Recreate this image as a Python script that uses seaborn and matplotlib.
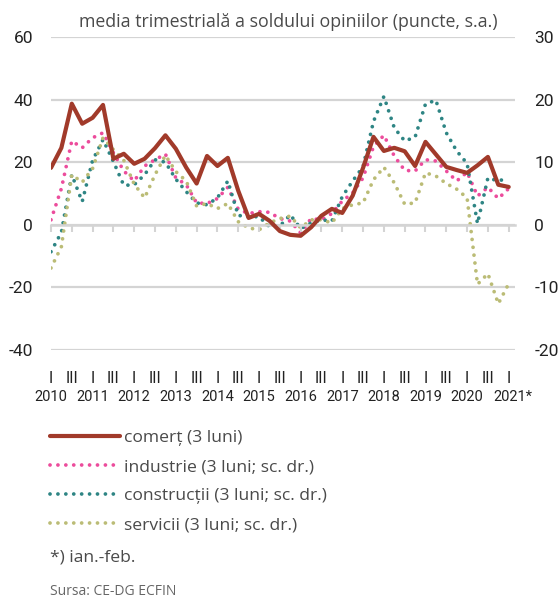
import seaborn as sns
import matplotlib.pyplot as plt
import matplotlib.transforms as mtransforms
import pandas as pd
import numpy as np

# Quarterly values, 2010 Q1 - 2021 Q1 (last point: Jan-Feb)
years = list(range(2010, 2022))
quarters = [y + q * 0.25 for y in years[:-1] for q in range(4)] + [2021.0]

comert = [18.2, 24.6, 38.7, 32.3, 34.2, 38.3, 21.1, 22.7, 19.5, 21.1, 24.5, 28.6,
          24.3, 18.3, 13.2, 22.0, 18.8, 21.4, 10.9, 2.2, 3.5, 1.3, -2.0, -3.2,
          -3.5, -0.8, 2.9, 5.1, 3.8, 9.3, 18.2, 28.1, 23.6, 24.6, 23.5, 18.8,
          26.5, 22.5, 18.5, 17.5, 16.6, 19.0, 21.7, 12.8, 12.1]
industrie = [0.8, 5.8, 13.4, 12.3, 13.9, 14.7, 11.5, 8.6, 7.0, 9.4, 10.4, 11.3,
             7.5, 6.4, 3.5, 3.4, 4.2, 6.0, 2.5, 1.8, 2.1, 2.0, 1.0, 0.6,
             -1.3, 1.0, 0.8, 1.8, 3.8, 5.1, 7.5, 12.5, 14.3, 11.0, 8.7, 8.6,
             10.4, 10.2, 8.6, 7.0, 8.4, 4.6, 6.0, 4.2, 5.8]
constructii = [-4.3, -1.2, 8.0, 3.7, 10.3, 13.6, 10.1, 6.3, 6.4, 8.0, 10.4, 10.0,
               7.3, 5.3, 3.5, 3.2, 4.3, 7.0, 1.5, 1.3, 1.3, -0.3, -0.2, 1.6,
               -0.6, 0.3, 0.8, 0.6, 4.5, 7.0, 9.3, 16.5, 20.5, 15.5, 13.4, 14.0,
               19.3, 19.9, 14.7, 11.8, 9.8, 0.2, 7.5, 7.0, 7.5]
servicii = [-6.9, -3.5, 8.0, 6.8, 9.0, 13.9, 12.0, 10.3, 6.5, 4.3, 8.0, 11.1,
            8.5, 7.0, 3.0, 3.4, 2.6, 3.4, 0.5, -0.5, -0.8, 0.3, 1.0, 1.4,
            -0.5, 0.8, 0.8, 0.3, 2.6, 3.2, 3.5, 7.2, 9.2, 6.7, 3.3, 3.5,
            8.3, 7.8, 6.6, 5.7, 4.3, -9.5, -7.8, -12.6, -9.4]

year_labels = [str(y) for y in years[:-1]] + ['2021*']
left_ticks = [-40, -20, 0, 20, 40, 60]
right_ticks = [-20, -10, 0, 10, 20, 30]

df = pd.DataFrame({'t': quarters, 'comert': comert, 'industrie': industrie,
                   'constructii': constructii, 'servicii': servicii})

sns.set_style("white")
plt.rcParams['font.family'] = ['Open Sans', 'DejaVu Sans']
plt.rcParams['axes.unicode_minus'] = False

c_com = '#A13A2A'
c_ind = '#EC4C9C'
c_con = '#2E8584'
c_ser = '#BBBC76'
txt = '#4a4a4a'
num_family = ['Roboto', 'DejaVu Sans']

fig = plt.figure(figsize=(5.59, 6.01), dpi=100)
ax = fig.add_axes([0.0912, 0.4176, 0.830, 0.5208])
ax2 = ax.twinx()

dots = dict(linewidth=2.7, dashes=(0.01, 2.1), dash_capstyle='round')
sns.lineplot(data=df, x='t', y='industrie', ax=ax2, color=c_ind, label='industrie (3 luni; sc. dr.)', **dots)
sns.lineplot(data=df, x='t', y='constructii', ax=ax2, color=c_con, label='construcții (3 luni; sc. dr.)', **dots)
sns.lineplot(data=df, x='t', y='servicii', ax=ax2, color=c_ser, label='servicii (3 luni; sc. dr.)', **dots)
sns.lineplot(data=df, x='t', y='comert', ax=ax, color=c_com, linewidth=3.0,
             label='comerț (3 luni)')

# comert line on top of the dotted series
ax.set_zorder(ax2.get_zorder() + 1)
ax.patch.set_visible(False)

ax.set_xlim(2010, 2021.15)
ax.set_ylim(-40, 60)
ax2.set_ylim(-20, 30)
ax.set_yticks(left_ticks)
ax2.set_yticks(right_ticks)
ax.set_ylabel('')
ax2.set_ylabel('')
ax.set_xlabel('')

for a in (ax, ax2):
    for s in a.spines.values():
        s.set_visible(False)

ax2.grid(True, axis='y', color='#d4d4d4', linewidth=1.6)
ax.grid(False)

ax.tick_params(axis='y', length=0, pad=13, labelsize=12.5, labelcolor='#222222')
ax2.tick_params(axis='y', length=0, pad=14, labelsize=12.5, labelcolor='#222222')
for lab in ax.get_yticklabels() + ax2.get_yticklabels():
    lab.set_family(num_family)

# half-year tick labels (I / III)
half_years = [y + h for y in years[:-1] for h in (0, 0.5)] + [2021.0]
ax.set_xticks(half_years)
ax.set_xticklabels(['I' if h % 1 == 0 else 'III' for h in half_years])
ax.tick_params(axis='x', length=0, pad=15, labelsize=11.5, labelcolor='#222222')
for lab in ax.get_xticklabels():
    lab.set_family(num_family)

# zero line with small ticks
sec = ax.secondary_xaxis(0.4)
sec.set_xticks(half_years)
sec.set_xticklabels([])
sec.tick_params(axis='x', direction='out', length=5, width=1.5, color='#d4d4d4')
sec.spines['bottom'].set_color('#d4d4d4')
sec.spines['bottom'].set_linewidth(1.8)

trans = mtransforms.blended_transform_factory(ax.transData, ax.transAxes)
for y, lab in zip(years, year_labels):
    xpos = y + (0.1 if lab.endswith('*') else 0)
    ax.text(xpos, -0.150, lab, transform=trans, ha='center', va='center',
            fontsize=10.5, color='#222222', family=num_family)

fig.text(0.515, 0.963, 'media trimestrială a soldului opiniilor (puncte, s.a.)',
         ha='center', va='center', fontsize=12.8, color=txt)

h1, l1 = ax.get_legend_handles_labels()
h2, l2 = ax2.get_legend_handles_labels()
for a in (ax, ax2):
    if a.get_legend():
        a.get_legend().remove()
leg = fig.legend(h1 + h2, l1 + l2, loc='upper left', bbox_to_anchor=(0.089, 0.285),
                 frameon=False, fontsize=12.6, handlelength=4.0, handletextpad=0.25,
                 labelspacing=0.74, borderpad=0, borderaxespad=0)
for t in leg.get_texts():
    t.set_color(txt)

fig.text(0.09, 0.073, '*) ian.-feb.', ha='left', va='center', fontsize=12.6, color=txt)
fig.text(0.09, 0.015, 'Sursa: CE-DG ECFIN', ha='left', va='center', fontsize=10, color='#666666')

plt.savefig('out.png', dpi=100)
